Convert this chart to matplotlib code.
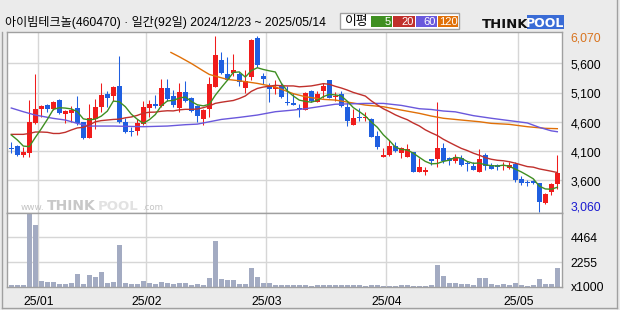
import matplotlib
matplotlib.use('Agg')
import matplotlib.pyplot as plt
import numpy as np
import pandas as pd
from matplotlib.patches import Rectangle

plt.rcParams['font.family'] = ['Liberation Sans', 'Noto Sans CJK KR', 'DejaVu Sans']

# ---------------- data ----------------
opens = [4140, 4190, 4030, 4070, 4575, 4810, 4885, 4820, 4970, 4725,
         4755, 4835, 4595, 4330, 4640, 4845, 5070, 5045, 5210, 4590,
         4450, 4440, 4565, 4835, 4905, 4870, 5170, 5040, 4830, 5110,
         5000, 4870, 4655, 4820, 5200, 5650, 5410, 5430, 5410, 5180,
         5370, 6040, 5380, 5210, 5160, 5210, 4945, 4925, 4830, 4800,
         5120, 4945, 5130, 5310, 5015, 5070, 4845, 4550, 4685, 4665,
         4645, 4355, 4005, 4030, 4185, 4070, 4005, 4080, 3750, 3750,
         3960, 3965, 4160, 3985, 3935, 3980, 3890, 3845, 3750, 4030,
         3865, 3845, 3845, 3805, 3875, 3615, 3575, 3590, 3550, 3205,
         3405, 3530]
highs = [4250, 4205, 4165, 4970, 5410, 4890, 4905, 4960, 4985, 4800,
         4870, 5040, 4600, 4905, 4985, 5270, 5120, 5210, 5720, 4660,
         4515, 4655, 4960, 4970, 5060, 5330, 5330, 5150, 5260, 5300,
         5020, 4885, 4820, 5370, 6070, 5790, 5710, 5760, 5450, 5480,
         6010, 6060, 5430, 5260, 5320, 5270, 5210, 5090, 4905, 5110,
         5150, 5120, 5260, 5320, 5110, 5120, 4945, 4810, 4830, 4765,
         4665, 4440, 4160, 4290, 4260, 4175, 4220, 4090, 3975, 3835,
         3970, 4945, 4230, 4005, 4045, 4030, 3930, 3920, 4135, 4070,
         3900, 3880, 3920, 3905, 3920, 3675, 3605, 3605, 3550, 3380,
         3550, 4030]
lows = [4070, 4015, 4005, 4005, 4560, 4685, 4770, 4800, 4730, 4585,
        4600, 4545, 4305, 4330, 4480, 4770, 4855, 4950, 4585, 4415,
        4355, 4380, 4550, 4675, 4840, 4845, 4960, 4845, 4770, 4945,
        4770, 4600, 4545, 4685, 5190, 5415, 5310, 5380, 5210, 5085,
        5310, 5540, 5245, 4945, 5070, 5000, 4895, 4885, 4675, 4800,
        4935, 4930, 5000, 5000, 4960, 4845, 4535, 4550, 4615, 4615,
        4345, 4130, 4005, 4015, 4090, 3985, 3995, 3750, 3750, 3690,
        3860, 3835, 3890, 3860, 3890, 3845, 3765, 3775, 3750, 3775,
        3790, 3775, 3775, 3795, 3575, 3520, 3505, 3530, 3060, 3190,
        3340, 3445]
closes = [4130, 4030, 4085, 4595, 4820, 4875, 4820, 4945, 4745, 4785,
          4805, 4585, 4330, 4660, 4850, 5060, 5010, 5190, 4600, 4430,
          4420, 4575, 4845, 4905, 4870, 5170, 4990, 4890, 5110, 4960,
          4790, 4700, 4800, 5240, 5740, 5440, 5320, 5480, 5280, 5300,
          5990, 5570, 5330, 5165, 5200, 5030, 4915, 4895, 4810, 5095,
          4960, 5070, 5210, 5010, 5045, 4870, 4620, 4665, 4670, 4675,
          4345, 4175, 4025, 4185, 4105, 4145, 4130, 3750, 3830, 3760,
          3935, 4160, 3930, 3935, 4005, 3860, 3875, 3775, 3960, 3845,
          3800, 3835, 3855, 3860, 3605, 3560, 3550, 3550, 3235, 3365,
          3535, 3720]
volumes = [200, 200, 200, 6570, 5590, 560, 470, 470, 290, 290,
           390, 1185, 290, 1080, 915, 1365, 420, 480, 3790, 377,
           290, 290, 557, 377, 290, 467, 377, 290, 377, 377,
           200, 290, 200, 826, 4160, 736, 646, 646, 290, 290,
           1720, 916, 377, 377, 200, 200, 200, 200, 200, 200,
           110, 200, 200, 200, 200, 200, 200, 200, 200, 110,
           200, 200, 110, 110, 110, 200, 200, 110, 110, 110,
           200, 1990, 1006, 377, 377, 290, 290, 200, 826, 826,
           290, 200, 290, 200, 377, 200, 110, 200, 736, 290,
           290, 1720]

# moving-average values before enough closes are available
ma5_head = [4375, 4290, 4185, 4175]
ma20_head = [4385, 4385, 4385, 4400, 4425, 4425, 4420, 4400, 4400, 4420,
             4460, 4495, 4505, 4545, 4600, 4620, 4630, 4640, 4645]
ma60_idx = [0, 2, 4, 7, 9, 11, 13, 17, 22, 26, 29, 31, 33, 35, 38, 41, 44, 47,
            49, 52, 54, 59, 62, 65, 68, 70, 72, 74, 77, 80, 83, 86, 88, 90, 91]
ma60_val = [4835, 4772, 4715, 4658, 4630, 4573, 4527, 4527, 4516, 4527, 4550,
            4560, 4600, 4640, 4675, 4715, 4772, 4800, 4823, 4869, 4900, 4914,
            4914, 4880, 4823, 4810, 4784, 4770, 4705, 4660, 4620, 4580, 4505,
            4445, 4430]
ma120_idx = [26.6, 28, 30, 32, 33, 36, 38, 41, 44, 47, 49, 52, 54, 59, 62, 65,
             68, 70, 72, 75, 78, 80, 83, 86, 89, 91]
ma120_val = [5785, 5711, 5597, 5470, 5409, 5324, 5301, 5256, 5195, 5080, 5028,
             4983, 4971, 4886, 4857, 4800, 4744, 4698, 4660, 4630, 4601, 4573,
             4556, 4516, 4488, 4482]

price_ticks = [3600, 4100, 4600, 5100, 5600]
price_labels = ['3,600', '4,100', '4,600', '5,100', '5,600']
price_max, price_min = 6070, 3060
vol_ticks = [2255, 4464]
month_pos = [4.5, 22.5, 42.5, 62.5, 84.5]
month_labels = ['25/01', '25/02', '25/03', '25/04', '25/05']
title = '아이빔테크놀(460470) · 일간(92일) 2024/12/23 ~ 2025/05/14'
ma_names = ['5', '20', '60', '120']

# ---------------- styling ----------------
W, H = 620, 310
BG = '#ebebeb'
RED = '#f01c1c'
BLUE = '#1f5fe0'
GRID = '#d6d6d6'
FRAME = '#a0a0a0'
C5, C20, C60, C120 = '#3f8f22', '#c0302c', '#6a58dc', '#e07008'
VOLC = '#a3abc2'

fig = plt.figure(figsize=(W / 100, H / 100), dpi=100, facecolor=BG)

def fx(x):
    return x / W

def fy(y):
    return 1 - y / H

L, R = 7.3, 562.3
T, M, B = 31.5, 212.7, 287.3
PTOP, PBOT = 6143, 3046
VTOP, VBOT = 6690, -9

ax = fig.add_axes([fx(L), fy(M), fx(R - L), (M - T) / H])
axv = fig.add_axes([fx(L), fy(B), fx(R - L), (B - M) / H])

n = len(closes)
idx = np.arange(n)
o = np.array(opens, float)
h = np.array(highs, float)
l = np.array(lows, float)
c = np.array(closes, float)

for a in (ax, axv):
    a.set_facecolor('white')
    a.set_xlim(-0.667, 91.83)
    for s in a.spines.values():
        s.set_color(FRAME)
        s.set_linewidth(1.0)
    a.set_xticks([])
    a.set_yticks([])
    for mp in month_pos:
        a.axvline(mp, color=GRID, lw=1.0, zorder=0)

ax.set_ylim(PBOT, PTOP)
for pt in price_ticks:
    ax.axhline(pt, color=GRID, lw=1.0, zorder=0)
axv.set_ylim(VBOT, VTOP)
for vt in vol_ticks:
    axv.axhline(vt, color=GRID, lw=1.0, zorder=0)

# candles
up = c >= o
cols = np.where(up, RED, BLUE)
ax.vlines(idx, l, h, colors=cols, lw=0.75, zorder=2)
body_lo = np.minimum(o, c)
body_h = np.maximum(np.abs(c - o), 18)
ax.bar(idx, body_h, bottom=body_lo, width=0.86, color=cols, linewidth=0, zorder=3)

# moving averages
cs = pd.Series(c)
ma5 = cs.rolling(5).mean().to_numpy()
ma5[:4] = ma5_head
ma20 = cs.rolling(20).mean().to_numpy()
ma20[:19] = ma20_head
ax.plot(ma120_idx, ma120_val, color=C120, lw=1.0, zorder=4)
ax.plot(ma60_idx, ma60_val, color=C60, lw=1.0, zorder=4)
ax.plot(idx, ma20, color=C20, lw=1.0, zorder=4)
ax.plot(idx, ma5, color=C5, lw=1.0, zorder=4)

# volume
axv.bar(idx, volumes, width=0.83, color=VOLC, linewidth=0, zorder=2)

# ---------------- overlay (pixel coordinates) ----------------
ov = fig.add_axes([0, 0, 1, 1], zorder=10)
ov.set_xlim(0, W)
ov.set_ylim(H, 0)
ov.axis('off')
ov.patch.set_alpha(0)

# outer frame
ov.plot([1.7, 1.7], [T, 308.3], color=FRAME, lw=1.0)
ov.plot([1.7, 616.7], [308.3, 308.3], color=FRAME, lw=1.0)
ov.plot([616.7, 616.7], [0, 308.3], color=FRAME, lw=1.0)

# title
ov.text(5, 22.5, title, fontsize=8.7, color='black', ha='left', va='center')

# MA legend box
ov.add_patch(Rectangle((340, 12.7), 119, 16.6, facecolor='white', edgecolor=FRAME, lw=1.0))
ov.text(345, 21.2, '이평', fontsize=9.2, ha='left', va='center', color='black',
        family=['Noto Sans CJK KR'])
boxes = [(370.5, 21.5, C5), (393, 21.5, C20), (415.5, 21.5, C60), (437.5, 20.8, C120)]
for (bx, bw, bc), name in zip(boxes, ma_names):
    ov.add_patch(Rectangle((bx, 15.7), bw, 11, facecolor=bc, edgecolor='none'))
    ov.text(bx + bw - 1.0, 25.2, name, fontsize=8.0, color='white', ha='right', va='baseline')

# THINKPOOL logo
ov.text(482, 27.5, 'THINK', fontsize=9.5, fontweight='bold', color='#111111',
        ha='left', va='baseline', family='DejaVu Sans')
ov.add_patch(Rectangle((527, 14.5), 37, 14, facecolor='#3a6cd6', edgecolor='none'))
ov.text(545.5, 27.0, 'POOL', fontsize=9.0, fontweight='bold', color='white',
        ha='center', va='baseline', family='DejaVu Sans')

# watermark
ov.text(21, 209.5, 'www.', fontsize=6.4, color='#c4c4c4', ha='left', va='baseline', family='DejaVu Sans')
ov.text(47, 209.5, 'THINK', fontsize=10, fontweight='bold', color='#c8c8c8', ha='left',
        va='baseline', family='DejaVu Sans')
ov.text(98, 209.5, 'POOL', fontsize=9.6, fontweight='bold', color='#e2e2e2', ha='left',
        va='baseline', family='DejaVu Sans')
ov.text(142, 209.5, '.com', fontsize=6.2, color='#c4c4c4', ha='left', va='baseline', family='DejaVu Sans')

# right price labels
def py(p):
    return T + (PTOP - p) / (PTOP - PBOT) * (M - T)

def vy(v):
    return B - (v - VBOT) / (VTOP - VBOT) * (B - M)

LX = 570.5
FS = 8.8
CAP = 0.716 * FS * 100 / 72 / 2  # half cap height in px

def lab(y_center, s, color='black'):
    ov.text(LX, y_center + CAP, s, fontsize=FS, color=color, ha='left', va='baseline')

lab(37.5, f'{price_max:,}', '#d8731e')
for pt, s in zip(price_ticks, price_labels):
    lab(py(pt) + 1, s)
lab(206.0, f'{price_min:,}', '#1a1ad0')
for vt in vol_ticks:
    lab(vy(vt) + 0.5, str(vt))
lab(286.8, 'x1000')

# month labels
for mp, ml in zip(month_pos, month_labels):
    xp = 11.3 + 6 * mp
    ov.text(xp, 300.5 + CAP, ml, fontsize=FS, color='black', ha='center', va='baseline')

fig.savefig('out.png', dpi=100, facecolor=BG)
